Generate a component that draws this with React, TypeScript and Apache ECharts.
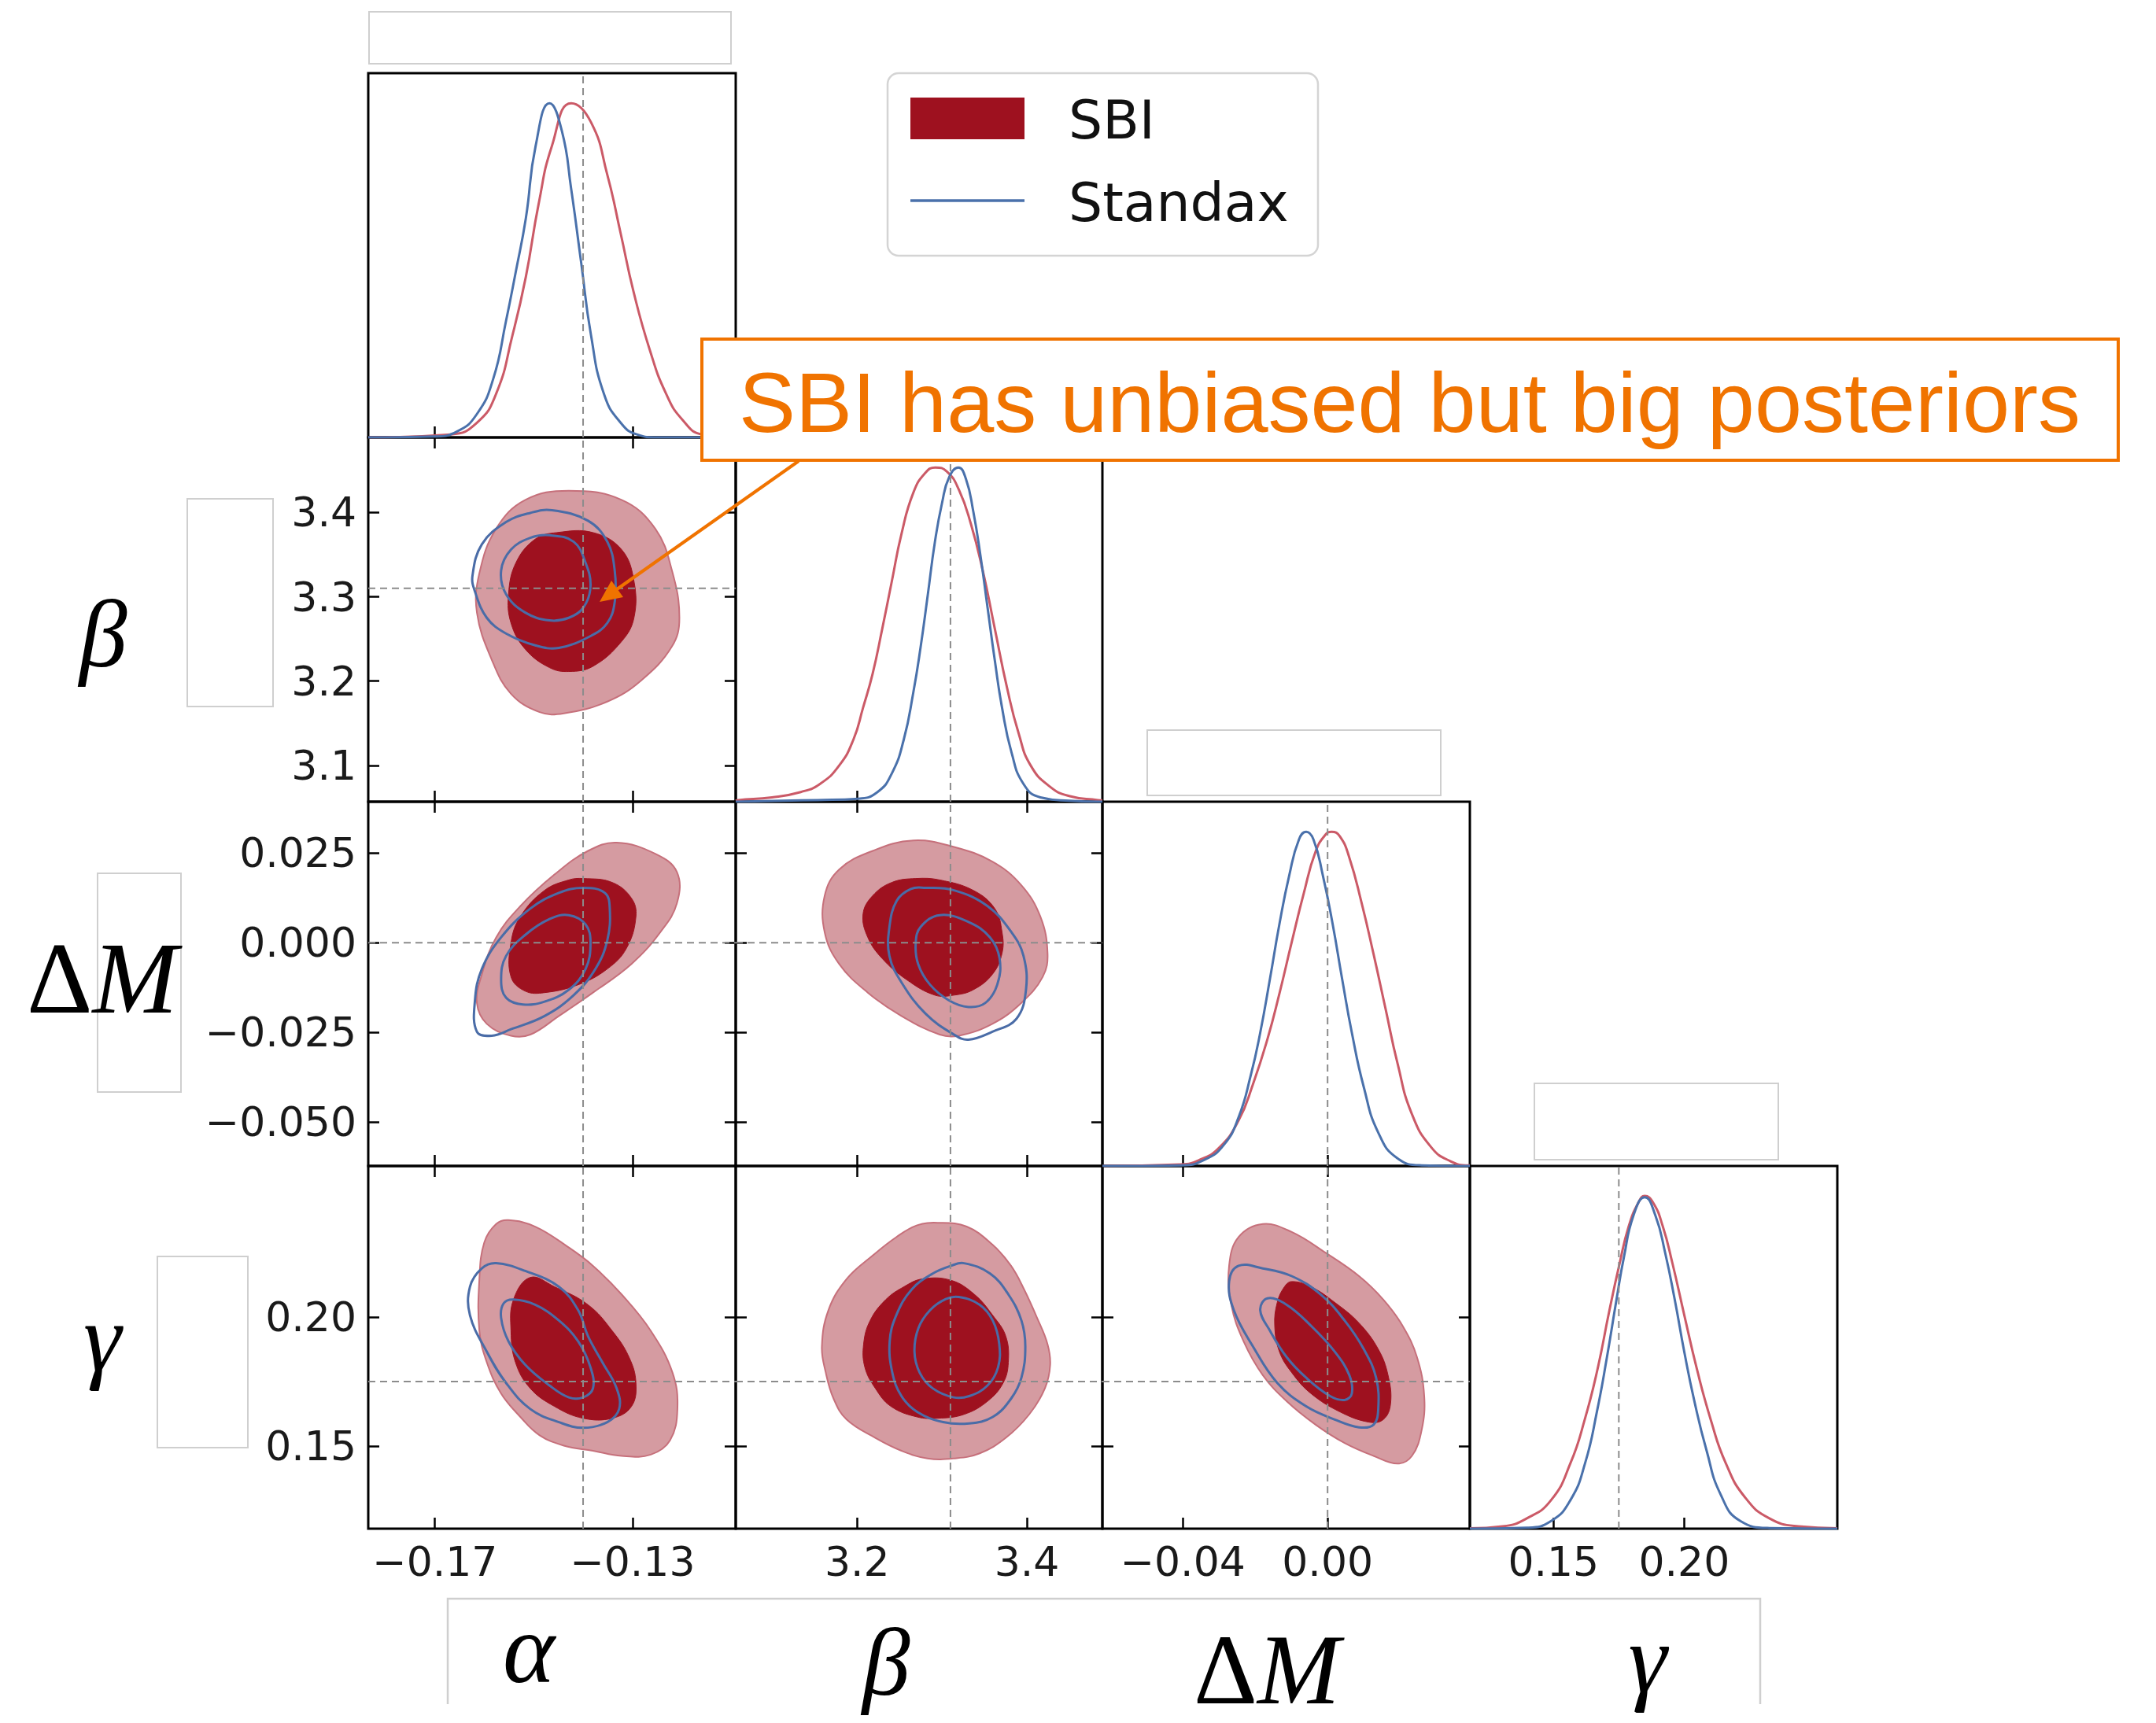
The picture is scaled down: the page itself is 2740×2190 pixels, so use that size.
import React, { useEffect, useRef } from 'react';
import * as echarts from 'echarts';

// ---------------- data ----------------
const paramRanges = [
  [-0.1835, -0.1091], // alpha
  [3.057, 3.489], // beta
  [-0.0622, 0.0393], // Delta M
  [0.118, 0.2586], // gamma
];
const truthValues = [-0.14, 3.31, 0, 0.175];

const alphaTicks = [-0.17, -0.13];
const alphaTickLabels = ['−0.17', '−0.13'];
const betaXTicks = [3.2, 3.4];
const betaXTickLabels = ['3.2', '3.4'];
const betaYTicks = [3.1, 3.2, 3.3, 3.4];
const betaYTickLabels = ['3.1', '3.2', '3.3', '3.4'];
const dMXTicks = [-0.04, 0.0];
const dMXTickLabels = ['−0.04', '0.00'];
const dMYTicks = [-0.05, -0.025, 0, 0.025];
const dMYTickLabels = ['−0.050', '−0.025', '0.000', '0.025'];
const gammaTicks = [0.15, 0.2];
const gammaTickLabels = ['0.15', '0.20'];

// 1D marginals (normalised to peak 1)
const alphaSBI1D = [[-0.1835, 0], [-0.1668, 0.009], [-0.1615, 0.044], [-0.1576, 0.131], [-0.1543, 0.306], [-0.1516, 0.48], [-0.149, 0.699], [-0.1463, 0.873], [-0.1424, 1.0], [-0.1384, 0.943], [-0.1351, 0.786], [-0.1324, 0.611], [-0.1298, 0.437], [-0.1265, 0.262], [-0.1232, 0.131], [-0.1199, 0.053], [-0.1159, 0.009], [-0.1091, 0]];
const alphaStd1D = [[-0.1835, 0], [-0.17, 0.003], [-0.1655, 0.018], [-0.1615, 0.07], [-0.1582, 0.175], [-0.1556, 0.349], [-0.1536, 0.498], [-0.1516, 0.655], [-0.1496, 0.873], [-0.1468, 1.0], [-0.1443, 0.917], [-0.1424, 0.742], [-0.1404, 0.524], [-0.1384, 0.306], [-0.1358, 0.131], [-0.1324, 0.044], [-0.1291, 0.009], [-0.125, 0], [-0.1091, 0]];
const betaSBI1D = [[3.057, 0.003], [3.0602, 0.005], [3.0997, 0.013], [3.1336, 0.029], [3.1562, 0.053], [3.1788, 0.108], [3.1957, 0.186], [3.207, 0.281], [3.2183, 0.383], [3.2296, 0.517], [3.2408, 0.658], [3.2522, 0.8], [3.2663, 0.925], [3.2804, 0.984], [3.2922, 1.0], [3.3058, 0.988], [3.32, 0.933], [3.3341, 0.831], [3.3482, 0.69], [3.3623, 0.517], [3.3764, 0.344], [3.3905, 0.203], [3.4046, 0.108], [3.4272, 0.045], [3.4498, 0.017], [3.4836, 0.005], [3.489, 0.004]];
const betaStd1D = [[3.057, 0], [3.1533, 0.005], [3.2014, 0.009], [3.224, 0.029], [3.2408, 0.084], [3.255, 0.186], [3.2663, 0.328], [3.2748, 0.462], [3.2833, 0.619], [3.2916, 0.776], [3.3001, 0.894], [3.3086, 0.972], [3.3193, 1.0], [3.3283, 0.965], [3.3368, 0.87], [3.3453, 0.737], [3.3538, 0.579], [3.3623, 0.422], [3.3708, 0.281], [3.382, 0.147], [3.3961, 0.053], [3.4159, 0.013], [3.4498, 0.003], [3.489, 0]];
const dMSBI1D = [[-0.0622, 0], [-0.0405, 0.005], [-0.0352, 0.019], [-0.0299, 0.055], [-0.0246, 0.136], [-0.0206, 0.245], [-0.0166, 0.38], [-0.0133, 0.516], [-0.0099, 0.67], [-0.0066, 0.815], [-0.0033, 0.941], [-0.0006, 0.991], [0.0011, 1.0], [0.0034, 0.986], [0.006, 0.923], [0.0094, 0.787], [0.0127, 0.634], [0.016, 0.471], [0.0193, 0.308], [0.0233, 0.155], [0.0287, 0.055], [0.034, 0.014], [0.0389, 0.002], [0.0393, 0.002]];
const dMStd1D = [[-0.0622, 0], [-0.0405, 0.002], [-0.0339, 0.019], [-0.0286, 0.064], [-0.0246, 0.145], [-0.0212, 0.272], [-0.0186, 0.399], [-0.0159, 0.561], [-0.0133, 0.724], [-0.0106, 0.869], [-0.0079, 0.977], [-0.0059, 1.0], [-0.0039, 0.977], [-0.0013, 0.869], [0.0014, 0.724], [0.004, 0.561], [0.0067, 0.399], [0.01, 0.236], [0.014, 0.1], [0.0193, 0.023], [0.026, 0.002], [0.0393, 0]];
const gammaSBI1D = [[0.118, 0.001], [0.1305, 0.007], [0.1398, 0.031], [0.1491, 0.086], [0.1565, 0.197], [0.1621, 0.332], [0.1667, 0.474], [0.1714, 0.656], [0.1751, 0.79], [0.1788, 0.909], [0.1825, 0.98], [0.1849, 1.0], [0.1881, 0.98], [0.1918, 0.909], [0.1955, 0.798], [0.2001, 0.64], [0.2048, 0.482], [0.2103, 0.324], [0.2159, 0.197], [0.2233, 0.094], [0.2326, 0.031], [0.2437, 0.007], [0.2586, 0.001]];
const gammaStd1D = [[0.118, 0], [0.1398, 0.003], [0.1491, 0.023], [0.1565, 0.086], [0.1621, 0.197], [0.1667, 0.355], [0.1704, 0.513], [0.1741, 0.688], [0.1769, 0.814], [0.1806, 0.941], [0.1849, 0.996], [0.189, 0.941], [0.1927, 0.83], [0.1964, 0.688], [0.2001, 0.529], [0.2038, 0.387], [0.2085, 0.237], [0.214, 0.102], [0.2215, 0.023], [0.2326, 0.002], [0.2586, 0]];

// 2D contours: [x, y]
const betaAlphaSBI95 = [[-0.1429, 3.4259], [-0.1322, 3.415], [-0.1254, 3.3809], [-0.122, 3.3311], [-0.1205, 3.2751], [-0.122, 3.2412], [-0.1283, 3.2005], [-0.1351, 3.1757], [-0.1439, 3.1617], [-0.1488, 3.1632], [-0.1546, 3.185], [-0.1585, 3.2254], [-0.1615, 3.2813], [-0.161, 3.328], [-0.1576, 3.3809], [-0.1517, 3.415]];
const betaAlphaSBI68 = [[-0.1453, 3.3762], [-0.138, 3.3762], [-0.1322, 3.356], [-0.1297, 3.3187], [-0.1297, 3.2751], [-0.1322, 3.2471], [-0.138, 3.2176], [-0.1429, 3.2114], [-0.1468, 3.216], [-0.1517, 3.2378], [-0.1546, 3.2689], [-0.1551, 3.3031], [-0.1536, 3.3404], [-0.1497, 3.3684]];
const betaAlphaStd95 = [[-0.1463, 3.4026], [-0.139, 3.3902], [-0.1351, 3.3653], [-0.1336, 3.3311], [-0.1336, 3.2937], [-0.1351, 3.2689], [-0.1385, 3.2534], [-0.1449, 3.2394], [-0.1497, 3.2424], [-0.1556, 3.2564], [-0.1595, 3.2751], [-0.1619, 3.3063], [-0.1624, 3.3249], [-0.1605, 3.3622], [-0.1556, 3.3886], [-0.1507, 3.3995]];
const betaAlphaStd68 = [[-0.1468, 3.373], [-0.1419, 3.3653], [-0.1395, 3.3404], [-0.1385, 3.3124], [-0.1399, 3.2876], [-0.1429, 3.2751], [-0.1468, 3.272], [-0.1517, 3.2813], [-0.1556, 3.3031], [-0.1566, 3.3311], [-0.1546, 3.356], [-0.1507, 3.37]];

const dMAlphaSBI95 = [[-0.1332, 0.0279], [-0.1254, 0.0248], [-0.121, 0.0197], [-0.121, 0.011], [-0.1244, 0.0029], [-0.1302, -0.0059], [-0.138, -0.0139], [-0.1449, -0.0204], [-0.1507, -0.0256], [-0.1546, -0.0259], [-0.1595, -0.0226], [-0.1615, -0.0168], [-0.1605, -0.0088], [-0.1576, 0.0015], [-0.1527, 0.0102], [-0.1458, 0.019], [-0.139, 0.0256]];
const dMAlphaSBI68 = [[-0.14, 0.0179], [-0.1341, 0.0168], [-0.1302, 0.0124], [-0.1293, 0.0073], [-0.1312, -0.0015], [-0.1351, -0.0073], [-0.141, -0.0117], [-0.1478, -0.0139], [-0.1517, -0.0135], [-0.1546, -0.0095], [-0.1546, 0.0], [-0.1527, 0.0073], [-0.1478, 0.0146], [-0.1429, 0.0175]];
const dMAlphaStd95 = [[-0.14, 0.0153], [-0.1356, 0.0139], [-0.1346, 0.0095], [-0.1351, 0.0007], [-0.1375, -0.0073], [-0.1419, -0.0146], [-0.1478, -0.0204], [-0.1546, -0.0241], [-0.1585, -0.0259], [-0.1615, -0.0248], [-0.1619, -0.0161], [-0.1605, -0.0073], [-0.1566, 0.0015], [-0.1507, 0.0095], [-0.1449, 0.0139]];
const dMAlphaStd68 = [[-0.1429, 0.0077], [-0.1395, 0.0051], [-0.1385, 0.0], [-0.1395, -0.0073], [-0.1429, -0.0131], [-0.1478, -0.0164], [-0.1522, -0.0172], [-0.1556, -0.0153], [-0.1566, -0.0102], [-0.1556, -0.0037], [-0.1517, 0.0022], [-0.1468, 0.0066]];

const dMBetaSBI95 = [[3.2663, 0.0285], [3.3142, 0.0267], [3.3594, 0.0226], [3.3933, 0.0161], [3.4159, 0.0073], [3.4244, -0.0029], [3.4187, -0.0095], [3.3933, -0.0168], [3.3594, -0.0226], [3.32, -0.0259], [3.2974, -0.0256], [3.2522, -0.0204], [3.2126, -0.0139], [3.1788, -0.0059], [3.1618, 0.0029], [3.1618, 0.0131], [3.1788, 0.0204], [3.2183, 0.0256]];
const dMBetaSBI68 = [[3.2691, 0.0179], [3.2974, 0.0175], [3.3369, 0.0146], [3.3623, 0.0095], [3.3708, 0.0029], [3.3708, -0.0029], [3.3594, -0.0088], [3.3369, -0.0131], [3.3142, -0.0146], [3.2916, -0.0146], [3.2578, -0.0102], [3.2296, -0.0044], [3.2126, 0.0015], [3.207, 0.008], [3.2183, 0.0131], [3.2408, 0.0168]];
const dMBetaStd95 = [[3.2804, 0.0153], [3.3142, 0.0146], [3.3538, 0.0102], [3.382, 0.0029], [3.3961, -0.0037], [3.399, -0.0131], [3.3877, -0.0212], [3.3594, -0.0248], [3.3312, -0.027], [3.3142, -0.0256], [3.2804, -0.0197], [3.2522, -0.011], [3.2381, -0.0037], [3.2381, 0.0044], [3.2466, 0.0117], [3.2634, 0.015]];
const dMBetaStd68 = [[3.2974, 0.0077], [3.3312, 0.0058], [3.3566, 0.0015], [3.3679, -0.0044], [3.3651, -0.0117], [3.3509, -0.0168], [3.3312, -0.0179], [3.3086, -0.0161], [3.286, -0.0117], [3.2719, -0.0059], [3.2691, 0.0], [3.2748, 0.0044]];

const gammaAlphaSBI95 = [[-0.1551, 0.2376], [-0.1497, 0.2351], [-0.1429, 0.227], [-0.138, 0.2199], [-0.1322, 0.2088], [-0.1263, 0.1947], [-0.1219, 0.1785], [-0.1209, 0.1644], [-0.1224, 0.1522], [-0.1263, 0.1467], [-0.1322, 0.1462], [-0.138, 0.1482], [-0.1439, 0.1502], [-0.1488, 0.1542], [-0.1527, 0.1613], [-0.1566, 0.1704], [-0.1595, 0.1825], [-0.161, 0.1947], [-0.161, 0.2148], [-0.16, 0.229], [-0.1576, 0.2361]];
const gammaAlphaSBI68 = [[-0.1507, 0.2154], [-0.1458, 0.2118], [-0.139, 0.2048], [-0.1341, 0.1947], [-0.1307, 0.1845], [-0.1293, 0.1745], [-0.1302, 0.1654], [-0.1341, 0.1608], [-0.14, 0.1608], [-0.1458, 0.1654], [-0.1507, 0.1724], [-0.1537, 0.1825], [-0.1546, 0.1947], [-0.1541, 0.2068]];
const gammaAlphaStd95 = [[-0.1576, 0.2209], [-0.1517, 0.2179], [-0.1449, 0.2118], [-0.141, 0.2027], [-0.139, 0.1926], [-0.1361, 0.1825], [-0.1332, 0.1724], [-0.1327, 0.1644], [-0.1351, 0.1593], [-0.14, 0.1571], [-0.1449, 0.1593], [-0.1507, 0.1644], [-0.1556, 0.1745], [-0.1595, 0.1866], [-0.1629, 0.2007], [-0.1629, 0.2118], [-0.1605, 0.2189]];
const gammaAlphaStd68 = [[-0.1541, 0.2068], [-0.1497, 0.2048], [-0.1449, 0.1987], [-0.141, 0.1906], [-0.1385, 0.1805], [-0.138, 0.1724], [-0.14, 0.1689], [-0.1429, 0.1689], [-0.1468, 0.1735], [-0.1517, 0.1815], [-0.1551, 0.1906], [-0.1566, 0.1997], [-0.1561, 0.2053]];

const gammaBetaSBI95 = [[3.2952, 0.2366], [3.3291, 0.2351], [3.3598, 0.228], [3.3814, 0.2199], [3.3967, 0.2108], [3.4121, 0.1997], [3.4243, 0.1896], [3.4275, 0.1815], [3.4213, 0.1724], [3.4028, 0.1623], [3.3752, 0.1532], [3.3445, 0.1472], [3.3137, 0.1452], [3.283, 0.1452], [3.2523, 0.1482], [3.2215, 0.1532], [3.1877, 0.1603], [3.1723, 0.1684], [3.1631, 0.1785], [3.1585, 0.1886], [3.1662, 0.2027], [3.1877, 0.2148], [3.2184, 0.2239], [3.2461, 0.231], [3.2707, 0.2356]];
const gammaBetaSBI68 = [[3.2768, 0.2148], [3.3106, 0.2143], [3.3383, 0.2088], [3.3598, 0.2007], [3.3752, 0.1926], [3.3782, 0.1825], [3.3721, 0.1745], [3.3537, 0.1674], [3.326, 0.1623], [3.2952, 0.1608], [3.2707, 0.1613], [3.2399, 0.1654], [3.2215, 0.1724], [3.2092, 0.1805], [3.2077, 0.1896], [3.2154, 0.1987], [3.2338, 0.2068], [3.2553, 0.2118]];
const gammaBetaStd95 = [[3.326, 0.2209], [3.3567, 0.2169], [3.3782, 0.2088], [3.3936, 0.1987], [3.3982, 0.1886], [3.3936, 0.1765], [3.3814, 0.1684], [3.3598, 0.1613], [3.3321, 0.1588], [3.3014, 0.1593], [3.2707, 0.1633], [3.2523, 0.1694], [3.2415, 0.1785], [3.2384, 0.1906], [3.2461, 0.2007], [3.2645, 0.2108], [3.2891, 0.2169], [3.3106, 0.2199]];
const gammaBetaStd68 = [[3.3199, 0.2078], [3.3445, 0.2048], [3.3598, 0.1987], [3.3675, 0.1896], [3.366, 0.1805], [3.3537, 0.1735], [3.3321, 0.1694], [3.3137, 0.1689], [3.2891, 0.1724], [3.2737, 0.1785], [3.2676, 0.1866], [3.2722, 0.1957], [3.286, 0.2027], [3.3045, 0.207]];

const gammaDMSBI95 = [[-0.0179, 0.2361], [-0.0099, 0.233], [-0.0006, 0.225], [0.0087, 0.2159], [0.0154, 0.2068], [0.0207, 0.1967], [0.0247, 0.1845], [0.0267, 0.1694], [0.026, 0.1563], [0.0233, 0.1462], [0.0193, 0.1432], [0.0127, 0.1462], [0.0047, 0.1512], [-0.0033, 0.1583], [-0.0113, 0.1674], [-0.0179, 0.1775], [-0.0232, 0.1906], [-0.0266, 0.2048], [-0.0272, 0.2199], [-0.0246, 0.231]];
const gammaDMSBI68 = [[-0.0099, 0.2138], [-0.0046, 0.2118], [0.002, 0.2057], [0.0087, 0.1977], [0.014, 0.1876], [0.0167, 0.1775], [0.0174, 0.1664], [0.0154, 0.1603], [0.0114, 0.1593], [0.0034, 0.1633], [-0.0046, 0.1704], [-0.0099, 0.1785], [-0.0133, 0.1866], [-0.0146, 0.1967], [-0.0139, 0.2057], [-0.0119, 0.2118]];
const gammaDMStd95 = [[-0.0246, 0.2199], [-0.0179, 0.2189], [-0.0099, 0.2159], [-0.0019, 0.2088], [0.0047, 0.1987], [0.01, 0.1876], [0.0134, 0.1765], [0.014, 0.1644], [0.0127, 0.1583], [0.0087, 0.1573], [0.002, 0.1603], [-0.0059, 0.1654], [-0.0139, 0.1745], [-0.0206, 0.1886], [-0.0259, 0.2027], [-0.0272, 0.2138]];
const gammaDMStd68 = [[-0.0166, 0.2073], [-0.0113, 0.2048], [-0.0046, 0.1967], [0.002, 0.1866], [0.006, 0.1775], [0.0067, 0.1704], [0.0047, 0.1679], [0.0007, 0.1694], [-0.0059, 0.1765], [-0.0113, 0.1845], [-0.0159, 0.1947], [-0.0186, 0.2027]];

// ---------------- layout & style ----------------
const COL_X = [468, 935, 1401, 1868, 2335];
const ROW_Y = [93, 556, 1019, 1482, 1943];
const DIAG_MAX = 1.09;

const X_TICKS = [alphaTicks, betaXTicks, dMXTicks, gammaTicks];
const X_TICK_LABELS = [alphaTickLabels, betaXTickLabels, dMXTickLabels, gammaTickLabels];
const Y_TICKS = [alphaTicks, betaYTicks, dMYTicks, gammaTicks];
const Y_TICK_LABELS = [alphaTickLabels, betaYTickLabels, dMYTickLabels, gammaTickLabels];

const SBI1D = [alphaSBI1D, betaSBI1D, dMSBI1D, gammaSBI1D];
const STD1D = [alphaStd1D, betaStd1D, dMStd1D, gammaStd1D];

const PANELS2D = [
  { r: 1, c: 0, s95: betaAlphaSBI95, s68: betaAlphaSBI68, d95: betaAlphaStd95, d68: betaAlphaStd68 },
  { r: 2, c: 0, s95: dMAlphaSBI95, s68: dMAlphaSBI68, d95: dMAlphaStd95, d68: dMAlphaStd68 },
  { r: 2, c: 1, s95: dMBetaSBI95, s68: dMBetaSBI68, d95: dMBetaStd95, d68: dMBetaStd68 },
  { r: 3, c: 0, s95: gammaAlphaSBI95, s68: gammaAlphaSBI68, d95: gammaAlphaStd95, d68: gammaAlphaStd68 },
  { r: 3, c: 1, s95: gammaBetaSBI95, s68: gammaBetaSBI68, d95: gammaBetaStd95, d68: gammaBetaStd68 },
  { r: 3, c: 2, s95: gammaDMSBI95, s68: gammaDMSBI68, d95: gammaDMStd95, d68: gammaDMStd68 },
];

const RED_FILL_95 = '#d59ba1';
const RED_EDGE_95 = '#c6707b';
const RED_FILL_68 = '#9e111f';
const BLUE_CONTOUR = '#4a6ca7';
const RED_LINE = '#cb5a67';
const BLUE_LINE = '#4a71ab';
const DASH = '#8c8c8c';
const ORANGE = '#f07300';
const BOX_GRAY = '#cfcfcf';

const TICK_FONT = { fontFamily: 'DejaVu Sans', fontSize: 52, color: '#1a1a1a' };

function fmt(ticks: number[], labels: string[]) {
  return (v: number) => {
    let best = 0;
    ticks.forEach((t, i) => {
      if (Math.abs(t - v) < Math.abs(ticks[best] - v)) best = i;
    });
    return labels[best];
  };
}

function xAxisDef(gi: number, c: number, pos: string, showLabels: boolean) {
  return {
    type: 'value',
    gridIndex: gi,
    position: pos,
    min: paramRanges[c][0],
    max: paramRanges[c][1],
    axisLine: { show: false, onZero: false },
    splitLine: { show: false },
    axisTick: { show: true, inside: true, length: 14, lineStyle: { color: '#000', width: 2.5 }, customValues: X_TICKS[c] },
    axisLabel: { show: showLabels, customValues: X_TICKS[c], formatter: fmt(X_TICKS[c], X_TICK_LABELS[c]), margin: 16, ...TICK_FONT },
  };
}

function yAxisDef(gi: number, r: number, pos: string, showLabels: boolean) {
  return {
    type: 'value',
    gridIndex: gi,
    position: pos,
    min: paramRanges[r][0],
    max: paramRanges[r][1],
    axisLine: { show: false, onZero: false },
    splitLine: { show: false },
    axisTick: { show: true, inside: true, length: 14, lineStyle: { color: '#000', width: 2.5 }, customValues: Y_TICKS[r] },
    axisLabel: { show: showLabels, customValues: Y_TICKS[r], formatter: fmt(Y_TICKS[r], Y_TICK_LABELS[r]), margin: 15, ...TICK_FONT },
  };
}

function polySeries(xi: number, yi: number, pts: number[][], style: any, z: number) {
  return {
    type: 'custom',
    xAxisIndex: xi,
    yAxisIndex: yi,
    data: [[pts[0][0], pts[0][1]]],
    silent: true,
    clip: true,
    z,
    renderItem: (_params: any, api: any) => ({
      type: 'polygon',
      shape: { points: pts.map((p) => api.coord(p)), smooth: 0.4 },
      style: { ...style },
    }),
  };
}

function dashSeries(xi: number, yi: number, data: number[][]) {
  return {
    type: 'line',
    xAxisIndex: xi,
    yAxisIndex: yi,
    data,
    symbol: 'none',
    silent: true,
    z: 8,
    lineStyle: { color: DASH, width: 2, type: [9, 6] },
  };
}

function buildOption() {
  const grid: any[] = [];
  const xAxis: any[] = [];
  const yAxis: any[] = [];
  const series: any[] = [];

  for (let r = 0; r < 4; r++) {
    for (let c = 0; c <= r; c++) {
      const gi = grid.length;
      grid.push({
        left: COL_X[c],
        top: ROW_Y[r],
        width: COL_X[c + 1] - COL_X[c],
        height: ROW_Y[r + 1] - ROW_Y[r],
        show: true,
        borderColor: '#000',
        borderWidth: 3,
        backgroundColor: 'rgba(0,0,0,0)',
      });
      const xb = xAxis.length;
      xAxis.push(xAxisDef(gi, c, 'bottom', r === 3));
      if (r !== c) xAxis.push(xAxisDef(gi, c, 'top', false));
      const yl = yAxis.length;
      if (r === c) {
        yAxis.push({ type: 'value', gridIndex: gi, min: 0, max: DIAG_MAX, show: false, axisLine: { onZero: false } });
        series.push({
          type: 'line', name: 'SBI', xAxisIndex: xb, yAxisIndex: yl, data: SBI1D[c],
          smooth: 0.5, symbol: 'none', silent: true, z: 3,
          lineStyle: { color: RED_LINE, width: 3 },
        });
        series.push({
          type: 'line', name: 'Standax', xAxisIndex: xb, yAxisIndex: yl, data: STD1D[c],
          smooth: 0.5, symbol: 'none', silent: true, z: 4,
          lineStyle: { color: BLUE_LINE, width: 3 },
        });
        series.push(dashSeries(xb, yl, [[truthValues[c], 0], [truthValues[c], DIAG_MAX]]));
      } else {
        yAxis.push(yAxisDef(gi, r, 'left', c === 0));
        yAxis.push(yAxisDef(gi, r, 'right', false));
        const p = PANELS2D.find((q) => q.r === r && q.c === c)!;
        series.push(polySeries(xb, yl, p.s95, { fill: RED_FILL_95, stroke: RED_EDGE_95, lineWidth: 2 }, 2));
        series.push(polySeries(xb, yl, p.s68, { fill: RED_FILL_68, stroke: RED_FILL_68, lineWidth: 1 }, 3));
        series.push(polySeries(xb, yl, p.d95, { fill: 'none', stroke: BLUE_CONTOUR, lineWidth: 3 }, 4));
        series.push(polySeries(xb, yl, p.d68, { fill: 'none', stroke: BLUE_CONTOUR, lineWidth: 3 }, 4));
        series.push(dashSeries(xb, yl, [[truthValues[c], paramRanges[r][0]], [truthValues[c], paramRanges[r][1]]]));
        series.push(dashSeries(xb, yl, [[paramRanges[c][0], truthValues[r]], [paramRanges[c][1], truthValues[r]]]));
      }
    }
  }

  const serif = 'Liberation Serif, Times New Roman, serif';
  const greek = (text: string, x: number, y: number, size: number) => ({
    type: 'text', x, y, z: 20,
    style: { text, fontFamily: serif, fontStyle: 'italic', fontSize: size, fill: '#000', align: 'center', verticalAlign: 'middle' },
  });
  const deltaM = (x: number, y: number, size: number) => ({
    type: 'text', x, y, z: 20,
    style: {
      text: '{d|Δ}{m|M}', align: 'left', verticalAlign: 'middle', fill: '#000',
      rich: {
        d: { fontFamily: serif, fontStyle: 'normal', fontSize: size, fill: '#000' },
        m: { fontFamily: serif, fontStyle: 'italic', fontSize: size, fill: '#000' },
      },
    },
  });
  const box = (x: number, y: number, w: number, h: number) => ({
    type: 'rect', z: 1, shape: { x, y, width: w, height: h },
    style: { fill: 'none', stroke: BOX_GRAY, lineWidth: 2 },
  });

  const graphic: any[] = [
    // placeholder boxes
    box(469, 15, 460, 66),
    box(238, 634, 109, 264),
    box(124, 1110, 106, 278),
    box(200, 1597, 115, 243),
    box(1458, 928, 373, 83),
    box(1950, 1377, 310, 97),
    { type: 'polyline', z: 1, shape: { points: [[569, 2166], [569, 2032], [2237, 2032], [2237, 2166]] }, style: { fill: 'none', stroke: BOX_GRAY, lineWidth: 2.5 } },
    // parameter names
    greek('β', 131, 805, 122),
    deltaM(34, 1243, 130),
    greek('γ', 130, 1700, 122),
    greek('α', 672, 2095, 126),
    greek('β', 1126, 2112, 122),
    deltaM(1517, 2122, 126),
    greek('γ', 2094, 2108, 124),
    // legend
    { type: 'rect', z: 30, shape: { x: 1128, y: 93, width: 547, height: 232, r: 14 }, style: { fill: 'rgba(255,255,255,0.85)', stroke: '#d4d4d4', lineWidth: 2.5 } },
    { type: 'rect', z: 31, shape: { x: 1157, y: 124, width: 145, height: 53 }, style: { fill: RED_FILL_68 } },
    { type: 'text', z: 31, x: 1358, y: 152, style: { text: 'SBI', fontFamily: 'DejaVu Sans', fontSize: 68, fill: '#111', align: 'left', verticalAlign: 'middle' } },
    { type: 'line', z: 31, shape: { x1: 1157, y1: 255, x2: 1302, y2: 255 }, style: { stroke: BLUE_LINE, lineWidth: 3.5 } },
    { type: 'text', z: 31, x: 1358, y: 257, style: { text: 'Standax', fontFamily: 'DejaVu Sans', fontSize: 68, fill: '#111', align: 'left', verticalAlign: 'middle' } },
    // annotation
    { type: 'rect', z: 40, shape: { x: 892, y: 431, width: 1800, height: 154 }, style: { fill: '#fff', stroke: ORANGE, lineWidth: 4 } },
    { type: 'text', z: 41, x: 939, y: 511, style: { text: 'SBI has unbiased but big posteriors', fontFamily: 'Liberation Sans, Arial, sans-serif', fontSize: 108, fill: ORANGE, align: 'left', verticalAlign: 'middle' } },
    { type: 'line', z: 41, shape: { x1: 1015, y1: 586, x2: 784, y2: 749 }, style: { stroke: ORANGE, lineWidth: 4 } },
    { type: 'polygon', z: 41, shape: { points: [[762, 765], [792, 759], [777, 738]] }, style: { fill: ORANGE } },
  ];

  return {
    animation: false,
    backgroundColor: '#ffffff',
    grid,
    xAxis,
    yAxis,
    series,
    graphic,
  };
}

export default function App() {
  const ref = useRef<HTMLDivElement>(null);
  useEffect(() => {
    document.body.style.margin = '0';
    document.documentElement.style.overflow = 'hidden';
    const chart = echarts.init(ref.current!, null, { renderer: 'svg' });
    chart.setOption(buildOption() as any);
    return () => chart.dispose();
  }, []);
  return <div ref={ref} style={{ position: 'absolute', left: 0, top: 0, width: 2740, height: 2190, background: '#fff' }} />;
}
